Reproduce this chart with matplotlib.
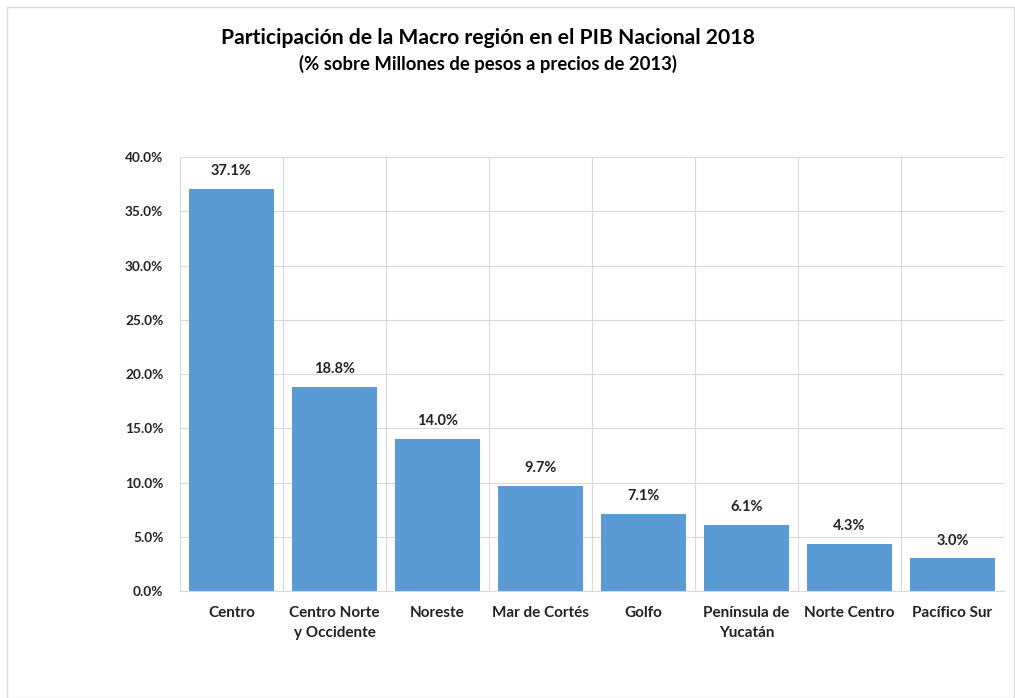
import numpy as np
import matplotlib.pyplot as plt
from matplotlib.patches import Rectangle
from matplotlib.ticker import FuncFormatter, MultipleLocator

categories = ["Centro", "Centro Norte\ny Occidente", "Noreste", "Mar de Cortés",
              "Golfo", "Península de\nYucatán", "Norte Centro", "Pacífico Sur"]
values = [37.1, 18.8, 14.0, 9.7, 7.1, 6.1, 4.3, 3.0]

plt.rcParams['font.family'] = ['Lato', 'DejaVu Sans']
plt.rcParams['font.weight'] = 'bold'

BAR = '#5B9BD5'
GRID = '#d9d9d9'
TXT = '#222222'


def main():
    fig = plt.figure(figsize=(10.15, 6.98), dpi=100)
    fig.patches.append(Rectangle((7 / 1015, 0.0), 1 - 8 / 1015, 1 - 7 / 698,
                                 transform=fig.transFigure, fill=False,
                                 edgecolor=GRID, linewidth=1))
    ax = fig.add_axes([180 / 1015, 0.1533, 824 / 1015, 0.6217])

    x = np.arange(len(categories))
    ax.bar(x, values, width=0.82, color=BAR, zorder=3)
    for xi, v in zip(x, values):
        ax.text(xi, v + 1.0, f"{v:.1f}%", ha='center', va='bottom',
                fontsize=10.5, fontweight='bold', color=TXT)

    ax.set_xlim(-0.5, len(categories) - 0.5)
    ax.set_ylim(0, 40)
    ax.yaxis.set_major_locator(MultipleLocator(5))
    ax.yaxis.set_major_formatter(FuncFormatter(lambda v, p: f"{v:.1f}%"))
    ax.set_xticks(x)
    ax.set_xticklabels(categories, fontsize=11, fontweight='bold', color=TXT,
                       linespacing=1.5, va='top')
    ax.set_xticks(np.arange(len(categories) + 1) - 0.5, minor=True)
    ax.tick_params(axis='x', which='both', length=0, pad=11)
    ax.tick_params(axis='y', length=0, pad=12, labelsize=9.8, labelcolor=TXT)
    for lab in ax.get_yticklabels():
        lab.set_fontweight('bold')

    ax.grid(axis='y', which='major', color=GRID, linewidth=0.8, zorder=0)
    ax.grid(axis='x', which='minor', color=GRID, linewidth=0.8, zorder=0)
    for s in ['top', 'right', 'left']:
        ax.spines[s].set_visible(False)
    ax.spines['bottom'].set_color(GRID)

    fig.text(0.481, 0.9456, "Participación de la Macro región en el PIB Nacional 2018",
             ha='center', va='center', fontsize=15.2, fontweight='bold', color='black')
    fig.text(0.481, 0.909, "(% sobre Millones de pesos a precios de 2013)",
             ha='center', va='center', fontsize=13.3, fontweight='bold', color='black')

    fig.savefig('out.png', dpi=100)


if __name__ == '__main__':
    main()
